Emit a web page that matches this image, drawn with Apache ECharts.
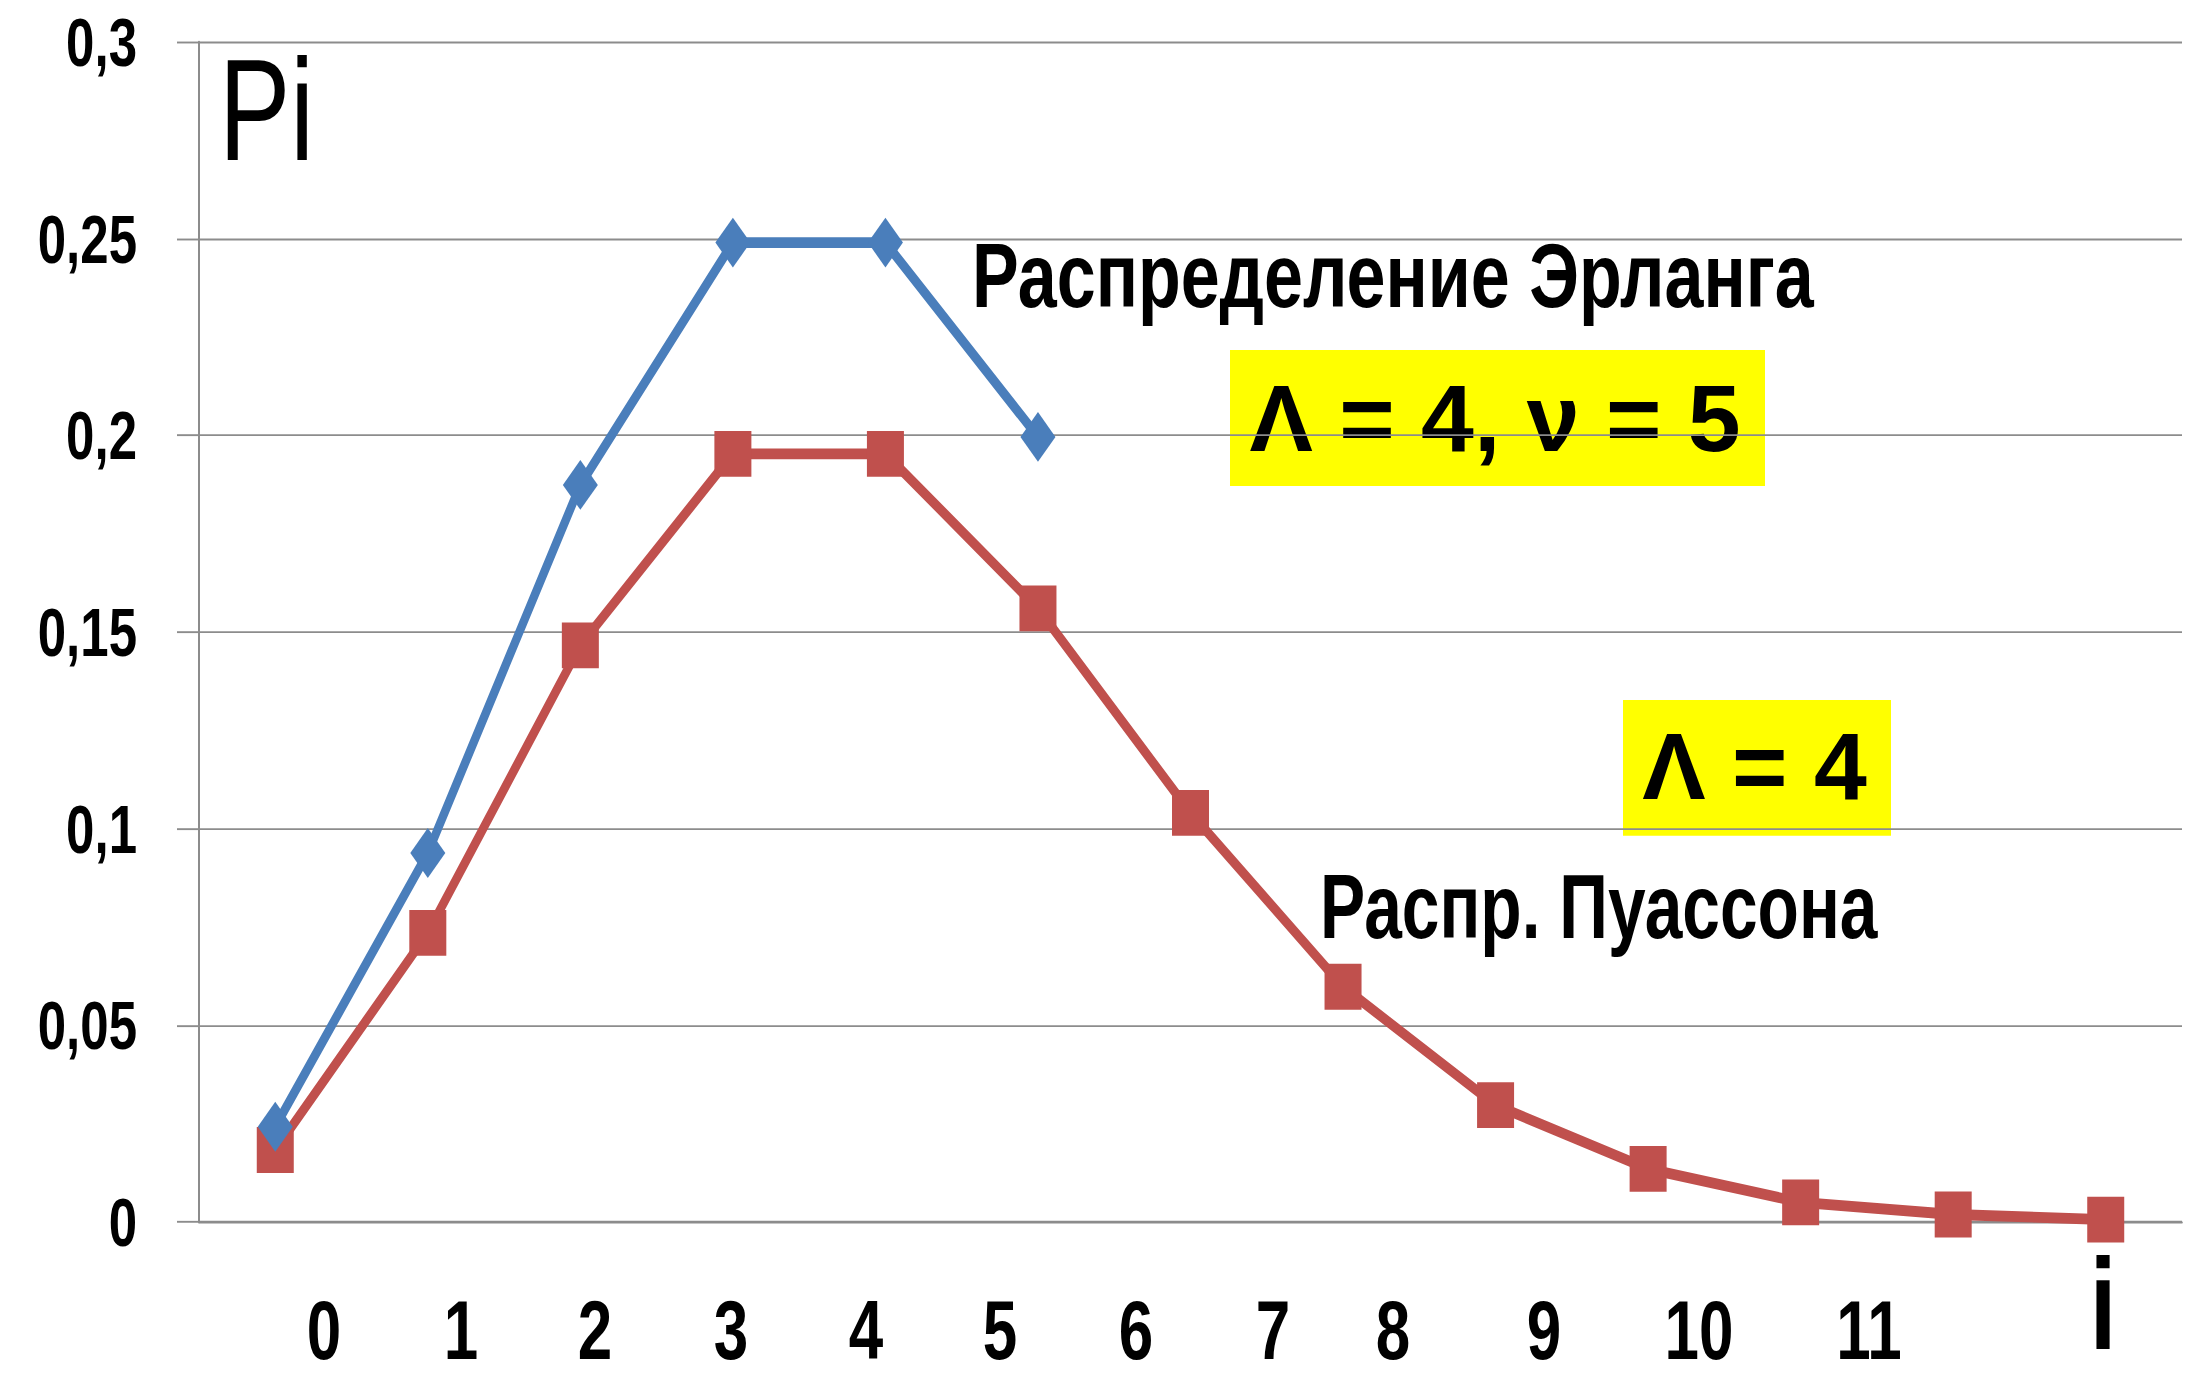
<!DOCTYPE html>
<html>
<head>
<meta charset="utf-8">
<style>
  html, body { margin: 0; padding: 0; background: #fff; overflow: hidden; width: 2190px; height: 1379px; }
  /* the chart is laid out on a shorter canvas and stretched vertically */
  #chart { width: 2190px; height: 1022px; transform-origin: 0 0; transform: scaleY(1.349315); }
</style>
<script src="https://cdn.jsdelivr.net/npm/echarts@6.0.0/dist/echarts.min.js"></script>
</head>
<body>
<div id="chart"></div>
<script>
// index i of the state
const points = ['0', '1', '2', '3', '4', '5', '6', '7', '8', '9', '10', '11', '12'];
// Erlang distribution, Λ = 4, ν = 5
const erlang = [0.0242, 0.0938, 0.1874, 0.249, 0.249, 0.1996];
// Poisson distribution, Λ = 4
const poisson = [0.0183, 0.0735, 0.1466, 0.1953, 0.1953, 0.156, 0.104, 0.0598, 0.0297, 0.0135, 0.005, 0.0019, 0.0006];
// printed tick labels under the axis
const xTickLabels = ['0', '1', '2', '3', '4', '5', '6', '7', '8', '9', '10', '11'];

const STRETCH = 1379 / 1022;
const FONT = "'Liberation Sans', Arial, sans-serif";
const GRID = '#8c8c8c';

// where the printed labels sit along the bottom, in category-band units
const labelSlots = [0.819, 1.718, 2.596, 3.488, 4.373, 5.251, 6.143, 7.041, 7.827, 8.817, 9.834, 10.948];

const chart = echarts.init(document.getElementById('chart'), null, { renderer: 'svg' });

chart.setOption({
  animation: false,
  backgroundColor: '#fff',
  grid: { left: 199, right: 8, top: 31.13, bottom: 116.37, outerBoundsMode: 'none' },
  xAxis: [
    {
      type: 'category',
      data: points,
      boundaryGap: true,
      axisLine: { show: true, lineStyle: { color: GRID, width: 1.6 } },
      axisTick: { show: false },
      axisLabel: { show: false },
      splitLine: { show: false }
    },
    {
      type: 'value',
      position: 'bottom',
      min: 0,
      max: points.length,
      axisLine: { show: false },
      axisTick: { show: false },
      splitLine: { show: false },
      name: 'i',
      nameLocation: 'end',
      nameGap: -79,
      nameTextStyle: {
        fontFamily: FONT, fontSize: 96, fontWeight: 'bold', color: '#000', lineHeight: 60,
        align: 'center', verticalAlign: 'top', padding: [31, 0, 0, 0]
      },
      axisLabel: {
        customValues: labelSlots,
        margin: 55,
        fontFamily: FONT,
        fontSize: 62,
        lineHeight: 50,
        fontWeight: 'bold',
        color: '#000',
        formatter: function (v) {
          let best = 0;
          for (let i = 1; i < labelSlots.length; i++) {
            if (Math.abs(labelSlots[i] - v) < Math.abs(labelSlots[best] - v)) best = i;
          }
          return xTickLabels[best];
        }
      }
    }
  ],
  yAxis: {
    type: 'value',
    min: 0,
    max: 0.3,
    interval: 0.05,
    name: 'Pi',
    nameLocation: 'end',
    nameGap: -50.4,
    nameTextStyle: {
      fontFamily: FONT, fontSize: 107, fontWeight: 'normal', color: '#000',
      align: 'left', verticalAlign: 'middle', padding: [0, 0, 0, 20]
    },
    axisLine: { show: true, lineStyle: { color: GRID, width: 2 } },
    axisTick: { show: true, length: 22, lineStyle: { color: GRID, width: 1.4 } },
    splitLine: { show: true, lineStyle: { color: GRID, width: 1.4 } },
    axisLabel: {
      margin: 62,
      fontFamily: FONT,
      fontSize: 51,
      fontWeight: 'bold',
      color: '#000',
      formatter: function (v) {
        return v === 0 ? '0' : String(+v.toFixed(2)).replace('.', ',');
      }
    }
  },
  series: [
    {
      name: 'Распр. Пуассона',
      type: 'line',
      xAxisIndex: 0,
      data: poisson,
      symbol: 'rect',
      symbolSize: [37, 34],
      showAllSymbol: true,
      lineStyle: { color: '#C0504D', width: 8 },
      itemStyle: { color: '#C0504D' },
      z: 3
    },
    {
      name: 'Распределение Эрланга',
      type: 'line',
      xAxisIndex: 0,
      data: erlang,
      symbol: 'diamond',
      symbolSize: [35, 37],
      showAllSymbol: true,
      lineStyle: { color: '#4A7EBB', width: 8 },
      itemStyle: { color: '#4A7EBB' },
      z: 4
    }
  ],
  graphic: [
    {
      type: 'text', x: 972, y: 204.4, z: 50, scaleX: 1.045,
      style: {
        text: 'Распределение Эрланга', fontFamily: FONT, fontSize: 67, fontWeight: 'bold',
        fill: '#000', align: 'left', verticalAlign: 'middle'
      }
    },
    {
      type: 'text', x: 1320, y: 672, z: 50, scaleX: 1.01,
      style: {
        text: 'Распр. Пуассона', fontFamily: FONT, fontSize: 67, fontWeight: 'bold',
        fill: '#000', align: 'left', verticalAlign: 'middle'
      }
    },
    {
      // parameter boxes keep their natural proportions
      type: 'group', x: 0, y: 0, scaleY: 1 / STRETCH, z: 100,
      children: [
        { type: 'rect', shape: { x: 1230, y: 350, width: 535, height: 136 }, style: { fill: '#ffff00' } },
        {
          type: 'text', x: 1495, y: 418.5,
          style: {
            text: 'Λ = 4, ν = 5', fontFamily: FONT, fontSize: 95, fontWeight: 'bold',
            fill: '#000', align: 'center', verticalAlign: 'middle'
          }
        },
        { type: 'rect', shape: { x: 1623, y: 700, width: 268, height: 136 }, style: { fill: '#ffff00' } },
        {
          type: 'text', x: 1754.5, y: 766.5,
          style: {
            text: 'Λ = 4', fontFamily: FONT, fontSize: 95, fontWeight: 'bold',
            fill: '#000', align: 'center', verticalAlign: 'middle'
          }
        }
      ]
    }
  ]
});
</script>
</body>
</html>
